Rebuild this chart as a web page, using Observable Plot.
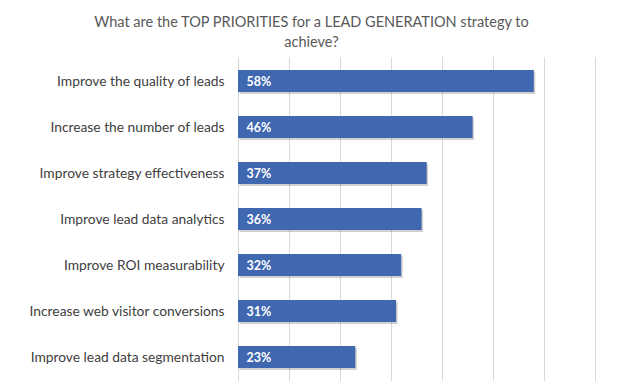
<!DOCTYPE html>
<html>
<head>
<meta charset="utf-8">
<script src="https://cdn.jsdelivr.net/npm/d3@7"></script>
<script src="https://cdn.jsdelivr.net/npm/@observablehq/plot@0.6"></script>
<style>
  html, body { margin: 0; padding: 0; background: #fff; }
  #wrap { width: 623px; height: 391px; overflow: hidden; }
  #title { height: 56px; box-sizing: border-box; padding-top: 12px; text-align: center;
           font-family: Lato, "Open Sans", sans-serif; font-size: 14.5px; line-height: 20px; color: #595959; }
  #title div { width: 623px; }
</style>
</head>
<body>
<div id="wrap">
  <div id="title"><div>What are the TOP PRIORITIES for a LEAD GENERATION strategy to</div><div>achieve?</div></div>
  <div id="chart"></div>
</div>
<script>
const categories = [
  "Improve the quality of leads",
  "Increase the number of leads",
  "Improve strategy effectiveness",
  "Improve lead data analytics",
  "Improve ROI measurability",
  "Increase web visitor conversions",
  "Improve lead data segmentation"
];
const values = [58, 46, 37, 36, 32, 31, 23];
const gridTicks = [0, 10, 20, 30, 40, 50, 60, 70];

const data = categories.map((c, i) => ({category: c, value: values[i]}));

const chart = Plot.plot({
  width: 623,
  height: 335,
  marginTop: 1,
  marginBottom: 10,
  marginLeft: 238,
  marginRight: 28,
  style: {fontFamily: "Lato, 'Open Sans', sans-serif", background: "#fff"},
  x: {domain: [0, 70], axis: null},
  y: {domain: categories, paddingInner: 0.53, paddingOuter: 0.265, label: null},
  marks: [
    Plot.ruleX(gridTicks, {stroke: "#d9d9d9", strokeWidth: 1}),
    Plot.barX(data, {x: "value", y: "category", fill: "#000", fillOpacity: 0.18, dx: 1.5, dy: 2}),
    Plot.barX(data, {x: "value", y: "category", fill: "#4068B0"}),
    Plot.text(data, {x: 0, y: "category", text: d => d.value + "%", dx: 8, textAnchor: "start",
      fill: "#fff", fontWeight: "bold", fontSize: 12.5}),
    Plot.axisY({tickSize: 0, tickPadding: 14, fontSize: 13.8, color: "#404040", label: null})
  ]
});
document.getElementById("chart").appendChild(chart);
</script>
</body>
</html>
